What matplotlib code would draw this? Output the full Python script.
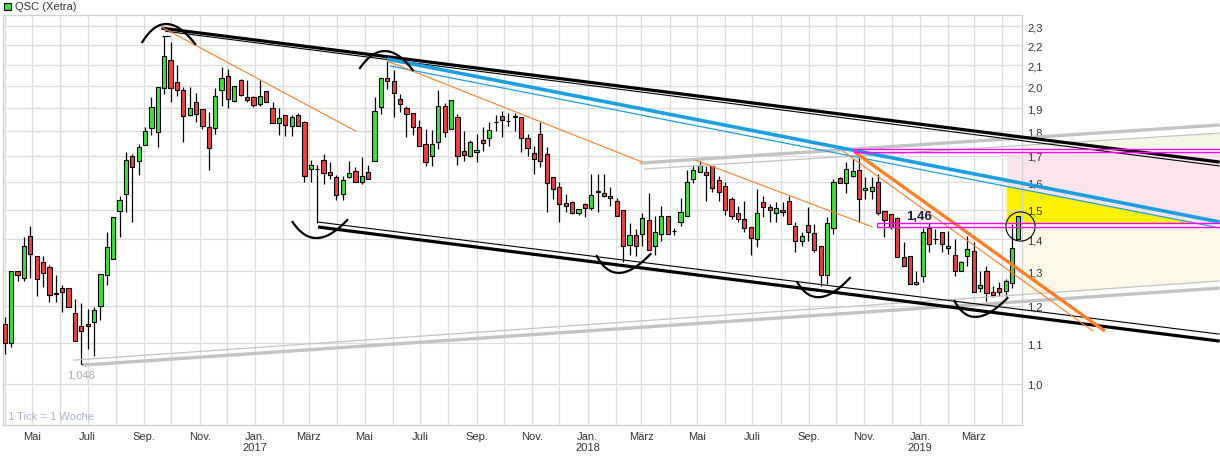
import numpy as np
import pandas as pd
import matplotlib
matplotlib.use('Agg')
import matplotlib.pyplot as plt
import matplotlib.dates as mdates
from matplotlib.patches import Rectangle, Polygon
from matplotlib.ticker import FixedLocator, FuncFormatter, NullLocator

plt.rcParams['font.family'] = ['Liberation Sans', 'DejaVu Sans']

# weekly candles QSC (Xetra)
dates = pd.date_range('2016-04-01', periods=160, freq='7D')
opens = [1.15, 1.10, 1.30, 1.28, 1.411, 1.347, 1.328, 1.313, 1.236, 1.25,
         1.25, 1.18, 1.144, 1.15, 1.155, 1.199, 1.289, 1.338, 1.496, 1.556,
         1.70, 1.68, 1.744, 1.814, 1.797, 1.992, 2.125, 2.019, 1.982, 1.869,
         1.927, 1.896, 1.818, 1.814, 1.982, 2.047, 1.932, 2.028, 1.95, 1.95,
         1.918, 1.977, 1.90, 1.836, 1.869, 1.823, 1.869, 1.84, 1.649, 1.649,
         1.684, 1.638, 1.619, 1.556, 1.619, 1.641, 1.60, 1.638, 1.68, 1.905,
         2.038, 2.024, 1.941, 1.90, 1.878, 1.818, 1.748, 1.70, 1.756, 1.909,
         1.81, 1.861, 1.719, 1.70, 1.715, 1.763, 1.773, 1.84, 1.865, 1.844,
         1.865, 1.861, 1.773, 1.711, 1.789, 1.708, 1.619, 1.582, 1.523, 1.527,
         1.488, 1.52, 1.506, 1.567, 1.56, 1.549, 1.53, 1.50, 1.383, 1.416,
         1.419, 1.465, 1.379, 1.419, 1.479, 1.428, 1.458, 1.479, 1.611, 1.638,
         1.638, 1.661, 1.607, 1.585, 1.538, 1.488, 1.469, 1.441, 1.40, 1.527,
         1.51, 1.488, 1.50, 1.53, 1.444, 1.394, 1.448, 1.421, 1.379, 1.289,
         1.438, 1.615, 1.596, 1.622, 1.645, 1.571, 1.567, 1.60, 1.496, 1.485,
         1.472, 1.344, 1.347, 1.262, 1.286, 1.438, 1.40, 1.424, 1.373, 1.35,
         1.30, 1.347, 1.363, 1.25, 1.30, 1.239, 1.25, 1.242, 1.265, 1.40]
highs = [1.169, 1.30, 1.30, 1.408, 1.444, 1.347, 1.347, 1.319, 1.289, 1.259,
         1.25, 1.219, 1.207, 1.191, 1.196, 1.292, 1.424, 1.475, 1.549, 1.716,
         1.708, 1.748, 1.818, 1.95, 1.996, 2.247, 2.216, 2.10, 1.996, 1.996,
         1.968, 1.896, 1.883, 1.992, 2.091, 2.081, 2.0, 2.033, 2.028, 1.955,
         2.028, 1.977, 1.927, 1.90, 1.869, 1.869, 1.878, 1.844, 1.684, 1.665,
         1.708, 1.676, 1.626, 1.622, 1.68, 1.657, 1.696, 1.665, 1.95, 2.038,
         2.12, 2.076, 1.963, 1.909, 1.878, 1.849, 1.81, 1.805, 1.982, 1.923,
         1.936, 1.874, 1.80, 1.763, 1.789, 1.818, 1.84, 1.869, 1.887, 1.878,
         1.878, 1.861, 1.789, 1.74, 1.84, 1.736, 1.619, 1.60, 1.556, 1.53,
         1.503, 1.523, 1.63, 1.63, 1.63, 1.582, 1.541, 1.50, 1.454, 1.435,
         1.488, 1.56, 1.479, 1.513, 1.479, 1.438, 1.541, 1.645, 1.665, 1.68,
         1.661, 1.661, 1.622, 1.60, 1.545, 1.513, 1.53, 1.441, 1.574, 1.549,
         1.52, 1.527, 1.527, 1.549, 1.458, 1.424, 1.51, 1.451, 1.379, 1.475,
         1.611, 1.62, 1.676, 1.688, 1.692, 1.619, 1.62, 1.63, 1.496, 1.485,
         1.475, 1.391, 1.347, 1.30, 1.438, 1.454, 1.435, 1.424, 1.427, 1.40,
         1.33, 1.41, 1.391, 1.30, 1.316, 1.256, 1.268, 1.277, 1.45, 1.479]
lows = [1.072, 1.09, 1.27, 1.27, 1.28, 1.227, 1.253, 1.21, 1.21, 1.182,
        1.196, 1.105, 1.048, 1.085, 1.067, 1.161, 1.259, 1.338, 1.408, 1.492,
        1.458, 1.626, 1.744, 1.785, 1.736, 1.963, 1.927, 1.954, 1.756, 1.865,
        1.84, 1.81, 1.645, 1.789, 1.909, 1.90, 1.927, 1.954, 1.927, 1.905,
        1.909, 1.927, 1.836, 1.785, 1.781, 1.781, 1.823, 1.60, 1.60, 1.455,
        1.593, 1.611, 1.534, 1.534, 1.615, 1.60, 1.593, 1.611, 1.68, 1.874,
        1.987, 1.861, 1.883, 1.777, 1.785, 1.74, 1.661, 1.661, 1.727, 1.777,
        1.81, 1.665, 1.68, 1.696, 1.676, 1.719, 1.74, 1.80, 1.777, 1.823,
        1.80, 1.715, 1.70, 1.63, 1.657, 1.492, 1.538, 1.458, 1.492, 1.485,
        1.482, 1.475, 1.50, 1.492, 1.545, 1.513, 1.479, 1.328, 1.35, 1.347,
        1.379, 1.366, 1.35, 1.394, 1.419, 1.416, 1.444, 1.479, 1.596, 1.638,
        1.53, 1.563, 1.53, 1.482, 1.469, 1.458, 1.424, 1.35, 1.376, 1.475,
        1.458, 1.458, 1.479, 1.451, 1.36, 1.379, 1.394, 1.36, 1.256, 1.262,
        1.419, 1.596, 1.56, 1.619, 1.458, 1.538, 1.538, 1.482, 1.408, 1.435,
        1.344, 1.316, 1.262, 1.259, 1.268, 1.36, 1.386, 1.36, 1.354, 1.286,
        1.30, 1.316, 1.239, 1.239, 1.213, 1.224, 1.227, 1.227, 1.25, 1.40]
closes = [1.10, 1.30, 1.29, 1.379, 1.353, 1.277, 1.295, 1.23, 1.234, 1.238,
          1.196, 1.105, 1.131, 1.144, 1.188, 1.292, 1.375, 1.475, 1.534, 1.684,
          1.657, 1.736, 1.80, 1.905, 1.996, 2.145, 1.992, 1.982, 1.865, 1.90,
          1.874, 1.823, 1.732, 1.954, 2.038, 1.941, 2.0, 1.959, 1.936, 1.914,
          1.954, 1.927, 1.836, 1.857, 1.827, 1.861, 1.823, 1.622, 1.665, 1.648,
          1.634, 1.626, 1.552, 1.607, 1.634, 1.60, 1.622, 1.611, 1.887, 2.038,
          2.024, 1.968, 1.918, 1.874, 1.818, 1.74, 1.676, 1.748, 1.909, 1.797,
          1.936, 1.70, 1.704, 1.756, 1.723, 1.752, 1.805, 1.838, 1.849, 1.842,
          1.863, 1.773, 1.732, 1.688, 1.68, 1.596, 1.574, 1.52, 1.513, 1.488,
          1.503, 1.506, 1.552, 1.565, 1.549, 1.541, 1.479, 1.379, 1.416, 1.379,
          1.472, 1.366, 1.424, 1.479, 1.419, 1.426, 1.492, 1.60, 1.645, 1.665,
          1.626, 1.578, 1.563, 1.50, 1.479, 1.469, 1.438, 1.403, 1.488, 1.51,
          1.50, 1.506, 1.492, 1.451, 1.394, 1.411, 1.424, 1.366, 1.289, 1.454,
          1.60, 1.596, 1.649, 1.641, 1.538, 1.578, 1.582, 1.488, 1.465, 1.441,
          1.344, 1.316, 1.262, 1.268, 1.424, 1.386, 1.40, 1.386, 1.379, 1.30,
          1.328, 1.369, 1.239, 1.259, 1.236, 1.23, 1.239, 1.271, 1.373, 1.479]

y_ticks = [1.0, 1.1, 1.2, 1.3, 1.4, 1.5, 1.6, 1.7, 1.8, 1.9, 2.0, 2.1, 2.2, 2.3]
month_names = {1: 'Jan.', 3: 'März', 5: 'Mai', 7: 'Juli', 9: 'Sep.', 11: 'Nov.'}

# drawn trendlines: (start date, price, end date, price)
END = '2019-11-26'
black_thick = [('2016-09-20', 2.289, END, 1.676), ('2017-03-11', 1.441, END, 1.105)]
black_thin = [('2016-09-24', 2.273, END, 1.661), ('2017-03-10', 1.458, END, 1.123)]
gray_thick = [('2016-06-26', 1.045, END, 1.250), ('2018-02-27', 1.672, END, 1.827)]
gray_thin = [('2016-06-15', 1.057, END, 1.271), ('2018-03-04', 1.649, END, 1.793)]
blue_thick = [('2017-05-26', 2.130, END, 1.458)]
blue_thin = [('2017-05-29', 2.096, END, 1.438)]
orange_thin = [('2016-09-20', 2.295, '2017-04-22', 1.80),
               ('2017-05-26', 2.120, '2018-03-02', 1.676),
               ('2018-04-29', 1.684, '2018-11-10', 1.441),
               ('2018-10-08', 1.720, '2019-07-10', 1.131)]
orange_thick = [('2018-10-21', 1.716, '2019-07-23', 1.131)]
# arcs: left, apex, right
arcs = [(('2016-08-30', 2.216), ('2016-09-26', 2.311), ('2016-10-27', 2.206)),
        (('2017-04-26', 2.086), ('2017-05-24', 2.170), ('2017-06-23', 2.076)),
        (('2017-02-11', 1.458), ('2017-03-10', 1.4045), ('2017-04-12', 1.4646)),
        (('2018-01-11', 1.347), ('2018-02-05', 1.295), ('2018-03-11', 1.353)),
        (('2018-08-19', 1.268), ('2018-09-13', 1.224), ('2018-10-16', 1.280)),
        (('2019-02-08', 1.213), ('2019-03-04', 1.169), ('2019-04-07', 1.2215))]
# horizontal level boxes (start, low, high)
levels = [('2018-10-21', 1.716, 1.728), ('2018-11-15', 1.4415, 1.4544)]
zone_start = '2019-04-06'
zone_edge = '2019-04-23'


def num(d):
    return mdates.date2num(pd.Timestamp(d))


def seg_val(seg, x):
    x1, p1, x2, p2 = num(seg[0]), seg[1], num(seg[2]), seg[3]
    return np.exp(np.log(p1) + (x - x1) * (np.log(p2) - np.log(p1)) / (x2 - x1))


fig = plt.figure(figsize=(12.2, 4.6), dpi=100)
ax = fig.add_axes([3 / 1220, 34 / 460, 1019 / 1220, 410 / 460])
ax.set_yscale('log')
ax.set_ylim(0.909, 2.36)
ax.set_xlim(num('2016-03-30'), num('2019-04-23'))
ax.set_axisbelow(True)

# candles
x = mdates.date2num(dates)
o, h, l, c = map(np.array, (opens, highs, lows, closes))
up = c >= o
ax.vlines(x, l, h, color='black', lw=0.9, zorder=2)
ax.bar(x, np.abs(c - o), bottom=np.minimum(o, c), width=4.6,
       color=np.where(up, '#3ee03e', '#e84242'), edgecolor='black', lw=0.8, zorder=3)

# extreme markers
ilo = int(np.argmin(l))
ihi = int(np.argmax(h))
ax.hlines(l[ilo], x[ilo], x[ilo] + 11, color='black', lw=0.9, zorder=4)
ax.hlines(h[ihi], x[ihi] - 2, x[ihi] + 6, color='black', lw=0.9, zorder=4)
ax.annotate(f'{l[ilo]:.3f}'.replace('.', ','), (x[ilo], l[ilo]), xytext=(0, -8),
            textcoords='offset points', ha='center', va='center', fontsize=8, color='#aaaaaa')

# zones right of the last candle (kept under the axis so tick labels stay visible)
xe = num(END)
xs = num(zone_start)
xg = num(zone_edge)
ax.add_patch(Rectangle((xs, levels[1][2]), xe - xs, levels[0][1] - levels[1][2],
                       fc='#fde4ec', ec='none', zorder=0.2, clip_on=False))
xx = np.linspace(xg, xe, 50)
ax.fill_between(xx, seg_val(gray_thin[1], xx), levels[0][2], color='#f3f7e3', lw=0, zorder=0.2, clip_on=False)
ax.fill_between(xx, seg_val(gray_thin[0], xx), levels[1][1], color='#fdf8e7', lw=0, zorder=0.2, clip_on=False)
b = blue_thin[0]
x1, x2 = num(b[0]), num(b[2])
xi = x1 + (np.log(levels[1][2]) - np.log(b[1])) * (x2 - x1) / (np.log(b[3]) - np.log(b[1]))
ax.add_patch(Polygon([(xs, levels[1][2]), (xs, seg_val(b, xs)), (xi, levels[1][2])],
                     closed=True, fc='#fff200', ec='none', zorder=0.3, clip_on=False))


def draw(segs, color, lw):
    for s in segs:
        ax.plot([num(s[0]), num(s[2])], [s[1], s[3]], color=color, lw=lw,
                solid_capstyle='butt', zorder=4, clip_on=False)


draw(gray_thick, '#c3c3c3', 2.4)
draw(gray_thin, '#c3c3c3', 0.9)
draw(black_thin, 'black', 0.8)
draw(black_thick, 'black', 2.3)
draw(blue_thin, '#1c9fe0', 0.9)
draw(blue_thick, '#1c9fe0', 2.6)
draw(orange_thin, '#ff7f27', 0.8)
draw(orange_thick, '#ff7f27', 2.4)

for start, lo, hi in levels:
    ax.add_patch(Rectangle((num(start), lo), xe + 30 - num(start), hi - lo, fill=False,
                           ec='#ff00ff', lw=1.0, zorder=4.5, clip_on=False))

t = np.linspace(0, 1, 40)[:, None]
for arc in arcs:
    P = np.array([[num(d), np.log(p)] for d, p in arc])
    c1 = 2 * P[1] - (P[0] + P[2]) / 2
    B = (1 - t) ** 2 * P[0] + 2 * (1 - t) * t * c1 + t ** 2 * P[2]
    ax.plot(B[:, 0], np.exp(B[:, 1]), color='black', lw=1.6, zorder=5, clip_on=False)

ax.plot(num('2019-04-21'), 1.444, 'o', ms=21, mfc='none', mec='black', mew=0.8,
        zorder=5, clip_on=False)
ax.text(num('2018-12-31'), 1.478, '1,46', ha='center', va='center', fontsize=9.5,
        fontweight='bold', color='#1c1c3c', zorder=6)

# axes styling
ax.yaxis.tick_right()
ax.yaxis.set_major_locator(FixedLocator(y_ticks))
ax.yaxis.set_minor_locator(NullLocator())
ax.yaxis.set_major_formatter(FuncFormatter(lambda v, p: f'{v:.1f}'.replace('.', ',')))
ax.xaxis.set_major_locator(mdates.MonthLocator())


def month_fmt(v, p):
    d = mdates.num2date(v)
    s = month_names.get(d.month, '')
    if d.month == 1:
        s += f'\n{d.year}'
    return s


ax.xaxis.set_major_formatter(FuncFormatter(month_fmt))
ax.tick_params(axis='both', length=0, labelsize=8, labelcolor='#333333')
ax.tick_params(axis='y', pad=4)
ax.tick_params(axis='x', pad=4)
ax.grid(True, color='#dcdcdc', lw=0.9)
for sp in ax.spines.values():
    sp.set_color('#cfcfcf')
    sp.set_linewidth(0.9)

ax.text(0.005, 0.022, '1 Tick = 1 Woche', transform=ax.transAxes, fontsize=8,
        color='#a9b4cc', va='center')

fig.add_artist(Rectangle((4 / 1220, 1 - 11 / 460), 7 / 1220, 7 / 460, transform=fig.transFigure,
                         fc='#3ee03e', ec='black', lw=0.8))
fig.text(15 / 1220, 1 - 7 / 460, 'QSC (Xetra)', fontsize=8, color='#333333', va='center')

fig.savefig('out.png', dpi=100)
